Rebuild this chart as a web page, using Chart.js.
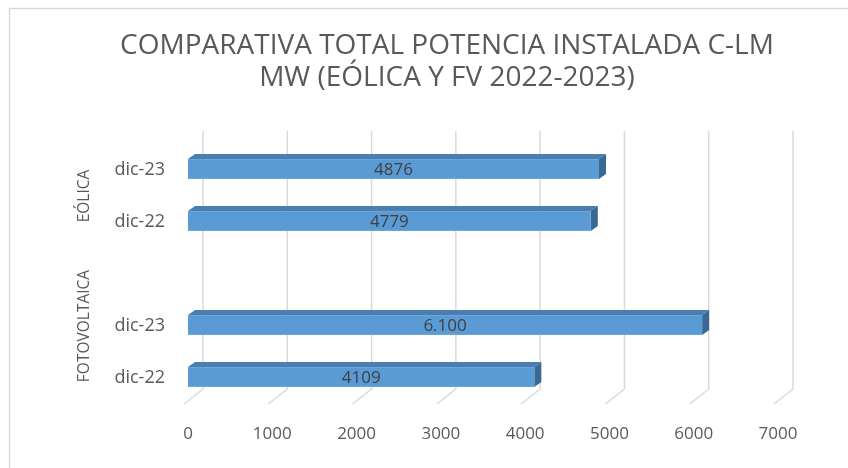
<!DOCTYPE html>
<html>
<head>
<meta charset="utf-8">
<script src="https://cdn.jsdelivr.net/npm/chart.js@4/dist/chart.umd.min.js"></script>
<style>
  html, body { margin: 0; padding: 0; background: #ffffff; }
  #wrap { width: 848px; height: 468px; position: relative; }
</style>
</head>
<body>
<div id="wrap"><canvas id="c" width="848" height="468"></canvas></div>
<script>
// ---- data ----
const titleLines = ['COMPARATIVA TOTAL POTENCIA INSTALADA C-LM', 'MW (EÓLICA Y FV 2022-2023)'];
const categories = ['dic-23', 'dic-22', '', 'dic-23', 'dic-22'];
const values = [4876, 4779, null, 6100, 4109];
const valueLabels = ['4876', '4779', '', '6.100', '4109'];
const groupNames = ['EÓLICA', 'FOTOVOLTAICA'];
const groupSpans = [[0, 1], [2, 4]];
const xTicks = [0, 1000, 2000, 3000, 4000, 5000, 6000, 7000];

const FONT = "'Open Sans', 'DejaVu Sans', sans-serif";
const GRAY = '#595959';

const decor = {
  id: 'decor',
  beforeDraw(chart) {
    const ctx = chart.ctx;
    ctx.save();
    ctx.fillStyle = '#ffffff';
    ctx.fillRect(0, 0, chart.width, chart.height);
    // outer border
    ctx.strokeStyle = '#d9d9d9';
    ctx.lineWidth = 1.5;
    ctx.strokeRect(9.5, 8.5, chart.width + 20, chart.height + 20);
    // title
    ctx.fillStyle = GRAY;
    ctx.font = "28px " + FONT;
    ctx.textAlign = 'center';
    ctx.textBaseline = 'middle';
    titleLines.forEach((t, i) => ctx.fillText(t, 447, 46 + i * 32));
    // 3D gridlines (back wall + floor slant)
    const xs = chart.scales.x;
    ctx.strokeStyle = '#d9d9d9';
    ctx.lineWidth = 1.5;
    xTicks.forEach(v => {
      const px = xs.getPixelForValue(v);
      ctx.beginPath();
      ctx.moveTo(px + 15, 131);
      ctx.lineTo(px + 15, 389);
      ctx.lineTo(px - 4, 404);
      ctx.stroke();
    });
    // group labels
    const ys = chart.scales.y;
    ctx.fillStyle = GRAY;
    ctx.font = "15.5px " + FONT;
    groupNames.forEach((g, i) => {
      const [a, b] = groupSpans[i];
      const cy = (ys.getPixelForValue(a) + ys.getPixelForValue(b)) / 2;
      ctx.save();
      ctx.translate(85, cy);
      ctx.rotate(-Math.PI / 2);
      ctx.textAlign = 'center';
      ctx.textBaseline = 'middle';
      ctx.fillText(g, 0, 0);
      ctx.restore();
    });
    ctx.restore();
  },
  afterDatasetsDraw(chart) {
    const ctx = chart.ctx;
    const meta = chart.getDatasetMeta(0);
    const dx = 7, dy = 5;
    ctx.save();
    meta.data.forEach((bar, i) => {
      if (values[i] == null) return;
      const p = bar.getProps(['x', 'y', 'base', 'height'], true);
      const left = p.base, right = p.x;
      const top = p.y - p.height / 2 - 1, bottom = p.y + p.height / 2 - 1;
      // top face
      ctx.fillStyle = '#4a7db0';
      ctx.beginPath();
      ctx.moveTo(left, top);
      ctx.lineTo(left + dx, top - dy);
      ctx.lineTo(right + dx, top - dy);
      ctx.lineTo(right, top);
      ctx.closePath();
      ctx.fill();
      // side face
      ctx.fillStyle = '#3b6793';
      ctx.beginPath();
      ctx.moveTo(right, top);
      ctx.lineTo(right + dx, top - dy);
      ctx.lineTo(right + dx, bottom - dy);
      ctx.lineTo(right, bottom);
      ctx.closePath();
      ctx.fill();
      // front face
      ctx.fillStyle = '#5b9bd5';
      ctx.fillRect(left, top, right - left, bottom - top);
      // value label
      ctx.fillStyle = '#404040';
      ctx.font = "17px " + FONT;
      ctx.textAlign = 'center';
      ctx.textBaseline = 'middle';
      ctx.fillText(valueLabels[i], (left + right) / 2, (top + bottom) / 2 + 1);
    });
    ctx.restore();
  }
};

new Chart(document.getElementById('c'), {
  type: 'bar',
  data: {
    labels: categories,
    datasets: [{
      data: values,
      backgroundColor: 'rgba(0,0,0,0)',
      borderWidth: 0,
      barPercentage: 0.38,
      categoryPercentage: 1
    }]
  },
  options: {
    indexAxis: 'y',
    responsive: false,
    animation: false,
    layout: { padding: { top: 144, left: 0, right: 70, bottom: 0 } },
    plugins: {
      legend: { display: false },
      title: { display: false },
      tooltip: { enabled: false }
    },
    scales: {
      x: {
        min: 0, max: 7000,
        afterBuildTicks(s) { s.ticks = xTicks.map(v => ({ value: v })); },
        afterFit(s) { s.height = 64; s.paddingLeft = 0; s.paddingRight = 0; },
        grid: { display: false },
        border: { display: false },
        ticks: {
          color: GRAY, font: { family: FONT, size: 17 }, padding: 12, maxRotation: 0,
          callback: (v) => String(v)
        }
      },
      y: {
        afterFit(s) { s.width = 188; s.paddingTop = 0; s.paddingBottom = 0; },
        grid: { display: false },
        border: { display: false },
        ticks: { color: GRAY, font: { family: FONT, size: 18 }, padding: 15, autoSkip: false }
      }
    }
  },
  plugins: [decor]
});
</script>
</body>
</html>
